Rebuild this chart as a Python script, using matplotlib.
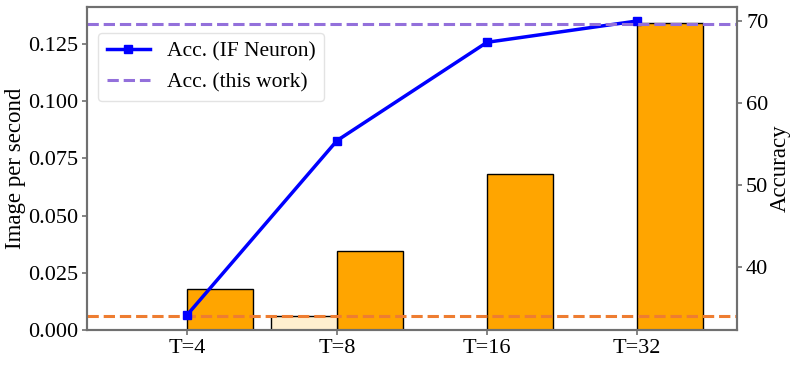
import matplotlib
matplotlib.use("Agg")
import matplotlib.pyplot as plt
import numpy as np

plt.rcParams['font.family'] = ['Liberation Serif', 'DejaVu Serif']
plt.rcParams['mathtext.fontset'] = 'stix'

labels = ["T=4", "T=8", "T=16", "T=32"]
ips = [0.0178, 0.0345, 0.068, 0.1343]
ips_this_work = 0.006
acc_if = [34.1, 55.4, 67.4, 70.0]
acc_this_work = 69.6

x = np.arange(len(labels))

fig = plt.figure(figsize=(7.97, 3.65), dpi=100)
ax = fig.add_axes([87/797, 35/365, 650/797, 323/365])
ax2 = ax.twinx()

ax.bar(x, ips, width=0.44, align='edge', color='#FFA500', edgecolor='black', linewidth=1, zorder=2)
ax.bar(x[1], ips_this_work, width=-0.44, align='edge', color='#FFEFCF', edgecolor='black', linewidth=1, zorder=2)
ax.axhline(ips_this_work, color='#EE7D31', linestyle='--', linewidth=2.2, zorder=3)

ln1, = ax2.plot(x, acc_if, color='#0000FF', marker='s', markersize=5.5, linewidth=2.5, label='Acc. (IF Neuron)')
ln2 = ax2.axhline(acc_this_work, color='#9370DB', linestyle='--', linewidth=2.2, label='Acc. (this work)')

ax.set_xlim(-0.667, 3.667)
ax.set_ylim(0, 0.1412)
ax2.set_ylim(32.27, 71.71)
ax.set_xticks(x)
ax.set_xticklabels(labels)
ax.set_yticks([0, 0.025, 0.05, 0.075, 0.1, 0.125])
ax.set_yticklabels(['0.000', '0.025', '0.050', '0.075', '0.100', '0.125'])
ax2.set_yticks([40, 50, 60, 70])

for a in (ax, ax2):
    for s in a.spines.values():
        s.set_color('#707070')
        s.set_linewidth(1.5)
    a.tick_params(labelsize=16, color='#707070', width=1.2, length=3.5, pad=3)

ax.set_ylabel('Image per second', fontsize=16.5, labelpad=1)
ax2.set_ylabel('Accuracy', fontsize=16.5, labelpad=1)

leg = ax2.legend(handles=[ln1, ln2], loc='upper left', bbox_to_anchor=(11/650, (330-33)/323),
                 borderaxespad=0, fontsize=15.5, frameon=True, fancybox=True,
                 edgecolor='#dddddd', handlelength=2.0, handletextpad=0.8)

fig.savefig('out.png', dpi=100)
